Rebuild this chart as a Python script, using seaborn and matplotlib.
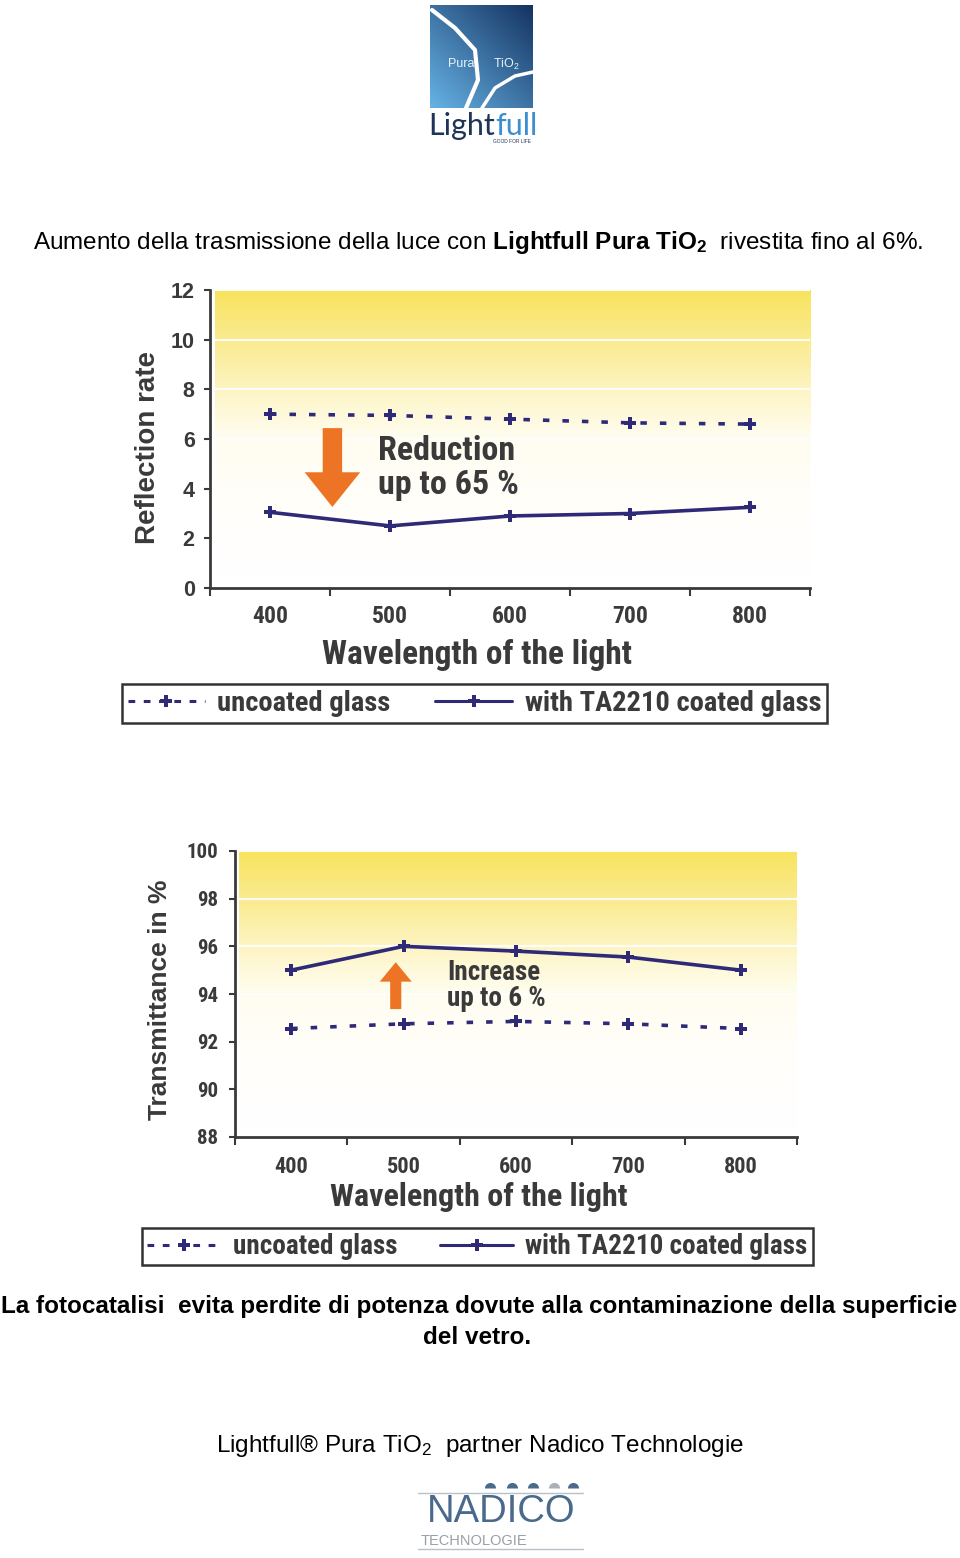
import numpy as np
import pandas as pd
import seaborn as sns
import matplotlib.pyplot as plt
from matplotlib.colors import LinearSegmentedColormap
from matplotlib.lines import Line2D

# data
wavelengths = [400, 500, 600, 700, 800]
series_names = ["uncoated glass", "with TA2210 coated glass"]
reflection_uncoated = [7.0, 6.95, 6.8, 6.65, 6.6]
reflection_coated = [3.05, 2.5, 2.9, 3.0, 3.25]
transmit_uncoated = [92.55, 92.75, 92.85, 92.75, 92.55]
transmit_coated = [95.0, 96.0, 95.8, 95.55, 95.0]
reflection_ticks = [0, 2, 4, 6, 8, 10, 12]
transmit_ticks = [88, 90, 92, 94, 96, 98, 100]

sns.set_style("white")
plt.rcParams['font.family'] = ['Liberation Sans', 'DejaVu Sans']
plt.rcParams['mathtext.fontset'] = 'custom'
plt.rcParams['mathtext.rm'] = 'Liberation Sans'
plt.rcParams['mathtext.bf'] = 'Liberation Sans:bold'
plt.rcParams['mathtext.it'] = 'Liberation Sans:italic'

NARROW = ['Roboto Condensed', 'Asap Condensed', 'Archivo Narrow', 'DejaVu Sans']
WIDE = ['Liberation Sans', 'DejaVu Sans']
INK = '#3a3a3a'
LINE = '#2f2a78'
ORANGE = '#ec7424'
PAGE_FS = 17.5

W, H = 960, 1558
fig = plt.figure(figsize=(W / 100, H / 100), dpi=100)


def box(x0, y0, x1, y1):
    return [x0 / W, 1 - y1 / H, (x1 - x0) / W, (y1 - y0) / H]


# page layer in pixel coordinates
page = fig.add_axes([0, 0, 1, 1], zorder=0)

# --- Lightfull logo (decoration)
gy, gx = np.mgrid[0:1:80j, 0:1:80j]
t = np.clip((gx + (1 - gy)) / 2, 0, 1)
light = np.array([0.40, 0.70, 0.90])
dark = np.array([0.08, 0.20, 0.38])
logo = light * (1 - t[..., None]) + dark * t[..., None]
page.imshow(logo, extent=[430, 533, 108, 5], aspect='auto', zorder=1)
page.plot([432, 455, 475, 478, 466], [10, 28, 50, 80, 108], color='white', lw=3, zorder=2)
page.plot([482, 495, 515, 533], [108, 88, 76, 72], color='white', lw=2.5, zorder=2)
page.text(461, 64, "Pura", color='#e8f2fa', fontsize=9, ha='center', va='center', zorder=3)
page.text(506, 64, "TiO$_2$", color='#e8f2fa', fontsize=9, ha='center', va='center', zorder=3)
page.text(495, 126, "Light", color='#1d3557', fontsize=22, ha='right', va='center', family=['Lato', 'DejaVu Sans'])
page.text(495, 126, "full", color='#3b8fd0', fontsize=22, ha='left', va='center', family=['Lato', 'DejaVu Sans'])
page.text(512, 141, "GOOD FOR LIFE", color='#1d3557', fontsize=3.5, ha='center', va='center')

# --- page texts
page.text(33, 242, r"Aumento della trasmissione della luce con $\mathbf{Lightfull\ Pura\ TiO_2}$  rivestita fino al 6%.",
          fontsize=PAGE_FS, ha='left', va='center', color='black')
page.text(479, 1307, "La fotocatalisi  evita perdite di potenza dovute alla contaminazione della superficie",
          fontsize=PAGE_FS, fontweight='bold', ha='center', va='center', color='black')
page.text(477, 1338, "del vetro.", fontsize=PAGE_FS, fontweight='bold', ha='center', va='center', color='black')
page.text(480, 1446, r"Lightfull® Pura TiO$_2$  partner Nadico Technologie",
          fontsize=PAGE_FS, ha='center', va='center', color='black')

# --- Nadico logo (decoration)
page.plot([418, 583], [1493, 1493], color='#b8c0c8', lw=1)
page.plot([418, 583], [1549, 1549], color='#b8c0c8', lw=1)
for dx, dc in zip([490, 512, 533, 554, 573], ['#4a6a8c'] * 3 + ['#a8b0b8', '#4a6a8c']):
    page.plot(dx, 1488, marker='o', ms=8, color=dc, fillstyle='top', markeredgewidth=0)
page.text(501, 1512, "NADICO", fontsize=27.5, color='#4a6a8c', ha='center', va='center')
page.text(421, 1541, "TECHNOLOGIE", fontsize=10.5, color='#9aa0a6', ha='left', va='center')

page.set_xlim(0, W)
page.set_ylim(H, 0)
page.axis('off')

cmap = LinearSegmentedColormap.from_list("fade", ['#ffffff', '#fffdf0', '#fbeea0', '#f8e35e'])


def draw_chart(rect, uncoated, coated, yticks, ylabel, legend_rect, xlabel_pos, ylabel_pos,
               xtick_fs, ytick_fs, ytick_family, ypad, label_fs, ylabel_fs, legend_fs, xpad):
    ax = fig.add_axes(box(*rect), zorder=2)
    df = pd.DataFrame({
        'wavelength': wavelengths * 2,
        'value': uncoated + coated,
        'series': [series_names[0]] * len(wavelengths) + [series_names[1]] * len(wavelengths),
    })
    sns.lineplot(data=df, x='wavelength', y='value', hue='series', style='series',
                 palette={n: LINE for n in series_names},
                 dashes={series_names[0]: (1.8, 3.6), series_names[1]: ""},
                 markers={n: 'P' for n in series_names}, markersize=8, markeredgewidth=0,
                 linewidth=2.6, legend=False, ax=ax, zorder=3)

    x_lo, x_hi = wavelengths[0] - 50, wavelengths[-1] + 50
    grad = np.linspace(0, 1, 200)[:, None] ** 1.6
    ax.imshow(grad, extent=[x_lo + 4, x_hi, yticks[0], yticks[-1]], origin='lower',
              aspect='auto', cmap=cmap, zorder=0)
    ax.set_xlim(x_lo, x_hi)
    ax.set_ylim(yticks[0], yticks[-1])
    ax.set_yticks(yticks)
    ax.set_xticks(wavelengths)
    ax.set_xticks([w - 50 for w in wavelengths] + [x_hi], minor=True)
    ax.set_axisbelow(True)
    ax.grid(axis='y', color='white', lw=1.5, alpha=0.9)
    ax.grid(axis='x', visible=False)

    for s in ['top', 'right']:
        ax.spines[s].set_visible(False)
    for s in ['left', 'bottom']:
        ax.spines[s].set_color(INK)
        ax.spines[s].set_linewidth(2)
    ax.tick_params(axis='y', length=4, width=1.5, color=INK, pad=ypad, labelcolor=INK, left=True)
    ax.tick_params(axis='x', which='major', length=0, pad=xpad, labelcolor=INK)
    ax.tick_params(axis='x', which='minor', length=6, width=1.5, color=INK, bottom=True)
    for lab in ax.get_xticklabels():
        lab.set_family(NARROW)
        lab.set_fontweight('bold')
        lab.set_fontsize(xtick_fs)
    for lab in ax.get_yticklabels():
        lab.set_family(ytick_family)
        lab.set_fontweight('bold')
        lab.set_fontsize(ytick_fs)

    ax.set_xlabel("Wavelength of the light", fontsize=label_fs, fontweight='bold',
                  family=NARROW, color=INK)
    ax.xaxis.set_label_coords(*xlabel_pos)
    ax.xaxis.label.set_va('center')
    ax.set_ylabel(ylabel, fontsize=ylabel_fs, fontweight='bold', color=INK)
    ax.yaxis.set_label_coords(*ylabel_pos)
    ax.yaxis.label.set_va('center')

    handles = [Line2D([], [], color=LINE, lw=2.2, linestyle=(0, (2.2, 2.8)), marker='P', ms=8, markeredgewidth=0),
               Line2D([], [], color=LINE, lw=2.2, marker='P', ms=8, markeredgewidth=0)]
    leg = ax.legend(handles, series_names, loc='center left', ncol=2, mode='expand',
                    bbox_to_anchor=box(*legend_rect), bbox_transform=fig.transFigure,
                    borderaxespad=0, frameon=True, fancybox=False, handlelength=2.7,
                    prop={'family': NARROW, 'weight': 'bold', 'size': legend_fs},
                    borderpad=0.2, handletextpad=0.45, columnspacing=0.6)
    leg.get_frame().set_edgecolor('black')
    leg.get_frame().set_linewidth(1.8)
    for txt in leg.get_texts():
        txt.set_color(INK)
    return ax


ax1 = draw_chart((210, 290, 810, 588), reflection_uncoated, reflection_coated, reflection_ticks,
                 "Reflection rate", (122, 683, 827, 724), (0.445, -0.225), (-0.103, 0.473),
                 17, 15.5, WIDE, 7, 24, 20, 20.5, 12.5)
ax1.annotate("", xy=(452, 3.15), xytext=(452, 6.55),
             arrowprops=dict(arrowstyle="simple,head_length=2.5,head_width=4.0,tail_width=1.4",
                             color=ORANGE, lw=0), zorder=4)
ax1.text(490, 5.5, "Reduction", fontsize=24.5, fontweight='bold', family=NARROW, color=INK, va='center')
ax1.text(490, 4.15, "up to 65 %", fontsize=24.5, fontweight='bold', family=NARROW, color=INK, va='center')

ax2 = draw_chart((235, 851, 797, 1137), transmit_uncoated, transmit_coated, transmit_ticks,
                 "Transmittance in %", (142, 1227, 813, 1266), (0.434, -0.21), (-0.1335, 0.479),
                 16, 15, NARROW, 8, 23, 19, 19.5, 14)
ax2.annotate("", xy=(493, 95.45), xytext=(493, 93.25),
             arrowprops=dict(arrowstyle="simple,head_length=1.4,head_width=2.3,tail_width=0.8",
                             color=ORANGE, lw=0), zorder=4)
ax2.text(539, 94.92, "Increase", fontsize=19.5, fontweight='bold', family=NARROW, color=INK, va='center')
ax2.text(539, 93.83, "up to 6 %", fontsize=19.5, fontweight='bold', family=NARROW, color=INK, va='center')

fig.savefig("out.png", dpi=100)
